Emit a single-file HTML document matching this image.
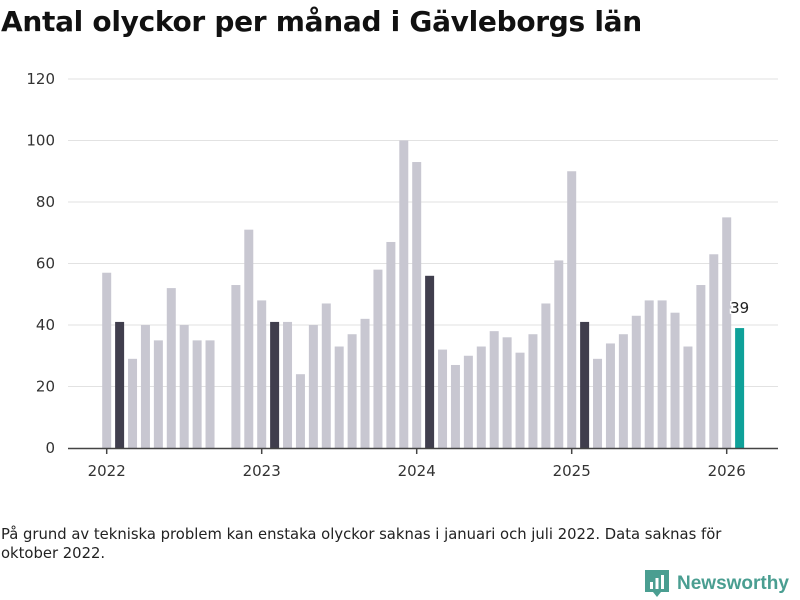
<!DOCTYPE html>
<html><head><meta charset="utf-8"><style>
body{margin:0;width:800px;height:600px;background:#fff;font-family:"DejaVu Sans","Liberation Sans",sans-serif;overflow:hidden;position:relative}
h1{position:absolute;left:1px;top:5px;margin:0;font-size:28px;font-weight:bold;color:#111;letter-spacing:-0.3px}
.note{position:absolute;left:1px;top:525px;font-size:14.8px;color:#222;line-height:19px;width:760px}
.logo{position:absolute;left:645px;top:570px;display:flex;align-items:center;font-size:19px;font-weight:bold;color:#4a9e91;font-family:"Liberation Sans",sans-serif}
svg text{font-family:"DejaVu Sans","Liberation Sans",sans-serif}
</style></head><body>
<h1>Antal olyckor per månad i Gävleborgs län</h1>
<svg id="chart" width="800" height="600" style="position:absolute;left:0;top:0"></svg>
<div class="note">På grund av tekniska problem kan enstaka olyckor saknas i januari och juli 2022. Data saknas för oktober 2022.</div>
<div class="logo">
<svg width="24" height="28" viewBox="0 0 24 28"><path d="M0 0h24v22h-8l-4 5-4-5H0z" fill="#4a9e91"/><rect x="5" y="12" width="3" height="7" fill="#fff"/><rect x="10.5" y="8" width="3" height="11" fill="#fff"/><rect x="16" y="5" width="3" height="14" fill="#fff"/></svg>
<span style="margin-left:8px">Newsworthy</span></div>
<script>
const startYear = 2022;
const values = [57,41,29,40,35,52,40,35,35,null,53,71,
48,41,41,24,40,47,33,37,42,58,67,100,
93,56,32,27,30,33,38,36,31,37,47,61,
90,41,29,34,37,43,48,48,44,33,53,63,
75,39];
const highlightMonth = 1;
const yTicks = [0,20,40,60,80,100,120];
const xTickYears = [2022,2023,2024,2025,2026];
const NS="http://www.w3.org/2000/svg";
const svg=document.getElementById('chart');
const x0=106.7, perMonth=(726.7-106.7)/48;
const xs=i=>x0+perMonth*i;
const ys=v=>448-v*(448-79)/120;
function mk(t,a){const e=document.createElementNS(NS,t);for(const k in a)e.setAttribute(k,a[k]);svg.appendChild(e);return e;}
yTicks.forEach(v=>{
  if(v>0){const g=mk('line',{x1:68,x2:778,y1:ys(v),y2:ys(v),stroke:'#e2e2e2','stroke-width':1});
  
  }
  const t=mk('text',{x:55,y:ys(v)+5,'text-anchor':'end','font-size':15,fill:'#333'});
  t.textContent=v;
  
  
});
values.forEach((v,i)=>{
  if(v==null)return;
  const last=i===values.length-1;
  const col=last?'#0fa199':(i%12===highlightMonth?'#403e4d':'#c8c7d1');
  const r=mk('rect',{x:xs(i)-4.5,y:ys(v),width:9,height:448-ys(v),fill:col});
  
  
  if(last){const t=mk('text',{x:xs(i),y:ys(v)-15,'text-anchor':'middle','font-size':15,fill:'#222',stroke:'#fff','stroke-width':3,'paint-order':'stroke'});
  t.textContent=v;
  
  }
});
const ax=mk('line',{x1:68,x2:778,y1:448.5,y2:448.5,stroke:'#444','stroke-width':1.5});


xTickYears.forEach(y=>{
  const x=xs((y-startYear)*12);
  const tk=mk('line',{x1:x,x2:x,y1:448,y2:454,stroke:'#444','stroke-width':1.5});
  
  
  const t=mk('text',{x:x,y:476,'text-anchor':'middle','font-size':15,fill:'#333'});
  t.textContent=y;
  
  
});
</script>
</body></html>
